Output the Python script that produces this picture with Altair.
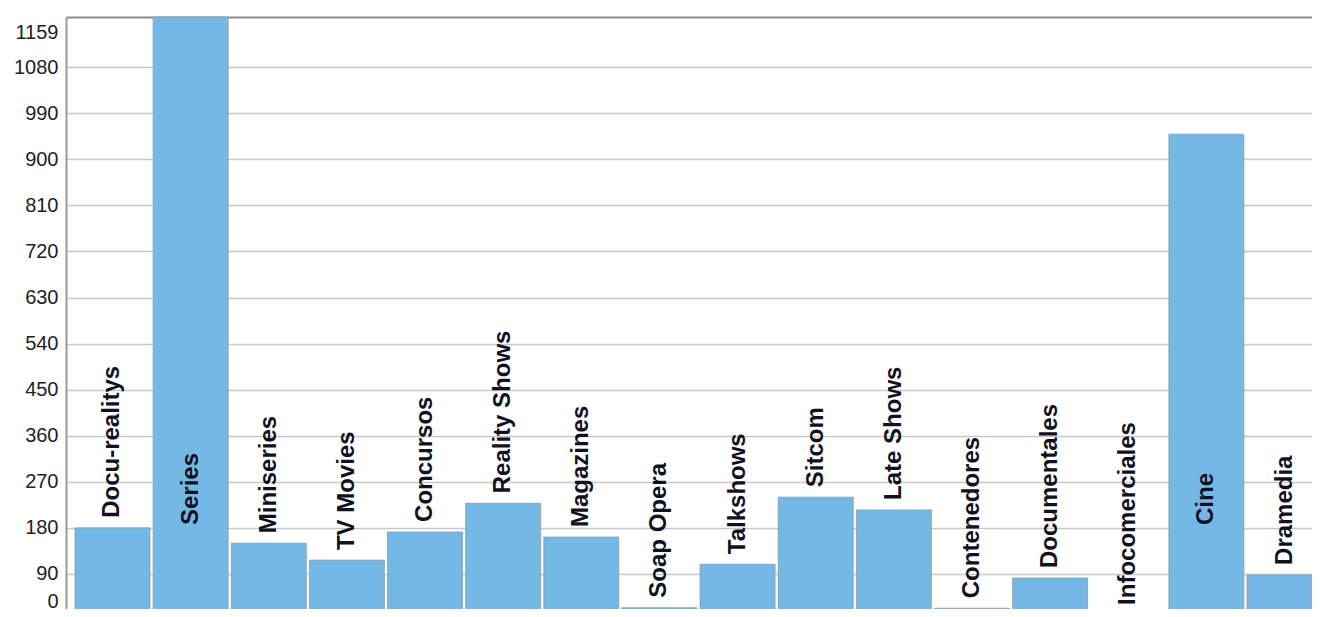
import altair as alt
import pandas as pd

categories = ["Docu-realitys", "Series", "Miniseries", "TV Movies", "Concursos",
              "Reality Shows", "Magazines", "Soap Opera", "Talkshows", "Sitcom",
              "Late Shows", "Contenedores", "Documentales", "Infocomerciales",
              "Cine", "Dramedia"]
values = [180, 1178, 150, 117, 172, 228, 162, 24, 109, 240, 215, 23, 82, 10, 949, 88]
y_ticks = [0, 90, 180, 270, 360, 450, 540, 630, 720, 810, 900, 990, 1080, 1159]

df = pd.DataFrame({"cat": categories, "value": values})

base = alt.Chart(df).encode(
    x=alt.X("cat:N", sort=categories,
            axis=alt.Axis(orient="top", labels=False, ticks=False, title=None,
                          domainColor="#8a8a8a", domainWidth=2),
            scale=alt.Scale(paddingInner=0.04, paddingOuter=0.115, range=[0, 1265]))
)

bars = base.mark_bar(color="#74B9E6", stroke="#8c9aa6", strokeWidth=0.8).encode(
    y=alt.Y("value:Q",
            scale=alt.Scale(domain=[0, 1178], nice=False, zero=True, range=[603, 0]),
            axis=alt.Axis(values=y_ticks, title=None, tickSize=0, labelPadding=8, format="d",
                          labelFontSize=20, labelColor="#222222", labelFont="Liberation Sans",
                          domainColor="#999999", domainWidth=2,
                          gridColor="#c8c8c8", gridWidth=1.6,
                          gridOpacity=alt.condition("datum.value == 1159", alt.value(0), alt.value(1)),
                          labelOffset={"condition": [
                              {"test": "datum.value == 1159", "value": 6},
                              {"test": "datum.value == 0", "value": -19}],
                              "value": 0}))
)

labels = base.mark_text(angle=270, align="left", baseline="middle", dx=10,
                        fontSize=24, fontWeight="bold", color="#111122",
                        font="Liberation Sans").transform_calculate(
    lab="datum.value > 600 ? 166 : datum.value"
).encode(
    y=alt.Y("lab:Q"),
    text="cat:N"
)

chart = (bars + labels).properties(
    width=1246, height=592,
    autosize=alt.AutoSizeParams(type="none"),
    padding={"left": 58, "top": 9, "right": 0, "bottom": 0}
).configure_view(stroke=None)

chart.save("out.html", embed_options={"renderer": "svg", "actions": False})
